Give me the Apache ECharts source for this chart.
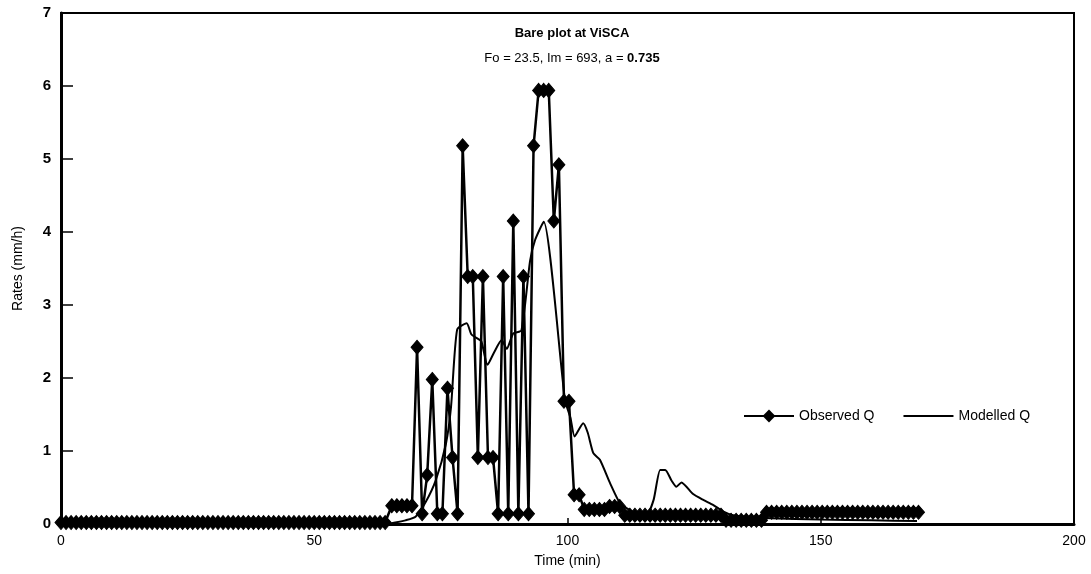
<!DOCTYPE html>
<html><head><meta charset="utf-8">
<script src="https://cdn.jsdelivr.net/npm/echarts@6/dist/echarts.min.js"></script>
<style>html,body{margin:0;padding:0;background:#fff}#c{width:1091px;height:574px}</style>
</head><body><div id="c"></div>
<script>
// Observed Q: time (min) and rate (mm/h)
const obsTime = [0,1,2,3,4,5,6,7,8,9,10,11,12,13,14,15,16,17,18,19,20,21,22,23,24,25,26,27,28,29,30,31,32,33,34,35,36,37,38,39,40,41,42,43,44,45,46,47,48,49,50,51,52,53,54,55,56,57,58,59,60,61,62,63,64,
65.3,66.3,67.3,68.3,69.3,70.3,71.3,72.3,73.3,74.3,75.3,76.3,77.3,78.3,79.3,80.3,81.3,82.3,83.3,84.3,85.3,86.3,87.3,88.3,89.3,90.3,91.3,92.3,93.3,94.3,95.3,96.3,97.3,98.3,99.3,100.3,101.3,102.3,103.3,104.3,105.3,106.3,107.3,108.3,109.3,110.3,111.3,112.3,113.3,114.3,115.3,116.3,117.3,118.3,119.3,120.3,121.3,122.3,123.3,124.3,125.3,126.3,127.3,128.3,129.3,130.3,131.3,132.3,133.3,134.3,135.3,136.3,137.3,138.3,139.3,140.3,141.3,142.3,143.3,144.3,145.3,146.3,147.3,148.3,149.3,150.3,151.3,152.3,153.3,154.3,155.3,156.3,157.3,158.3,159.3,160.3,161.3,162.3,163.3,164.3,165.3,166.3,167.3,168.3,169.3];
const obsQ = [0.02,0.02,0.02,0.02,0.02,0.02,0.02,0.02,0.02,0.02,0.02,0.02,0.02,0.02,0.02,0.02,0.02,0.02,0.02,0.02,0.02,0.02,0.02,0.02,0.02,0.02,0.02,0.02,0.02,0.02,0.02,0.02,0.02,0.02,0.02,0.02,0.02,0.02,0.02,0.02,0.02,0.02,0.02,0.02,0.02,0.02,0.02,0.02,0.02,0.02,0.02,0.02,0.02,0.02,0.02,0.02,0.02,0.02,0.02,0.02,0.02,0.02,0.02,0.02,0.02,
0.25,0.25,0.25,0.25,0.25,2.42,0.14,0.67,1.98,0.14,0.14,1.86,0.91,0.14,5.18,3.39,3.39,0.91,3.39,0.91,0.91,0.14,3.39,0.14,4.15,0.14,3.39,0.14,5.18,5.94,5.94,5.94,4.15,4.92,1.68,1.68,0.4,0.4,0.2,0.2,0.2,0.2,0.2,0.24,0.24,0.24,0.12,0.12,0.12,0.12,0.12,0.12,0.12,0.12,0.12,0.12,0.12,0.12,0.12,0.12,0.12,0.12,0.12,0.12,0.12,0.12,0.05,0.05,0.05,0.05,0.05,0.05,0.05,0.05,
0.16,0.16,0.16,0.16,0.16,0.16,0.16,0.16,0.16,0.16,0.16,0.16,0.16,0.16,0.16,0.16,0.16,0.16,0.16,0.16,0.16,0.16,0.16,0.16,0.16,0.16,0.16,0.16,0.16,0.16,0.16];

// Modelled Q
const modTime = [0,64,66,68,70,72,74,76,77,78.2,80.1,81,82,83,84.2,85.5,87,88,89.3,90.9,92.6,93.6,95.3,99.5,100.6,101.4,103.1,104,105.1,106.4,108.4,110.4,112.3,114.3,115.6,117,118.3,119.3,120.5,121.5,122.5,124.8,126.8,128.8,130.8,132.7,135.4,140,150,160,169];
const modQ = [0,0,0.02,0.05,0.1,0.3,0.6,1.1,1.6,2.66,2.75,2.6,2.55,2.5,2.18,2.35,2.52,2.4,2.61,2.65,3.6,3.89,4.14,1.7,1.45,1.2,1.38,1.25,0.97,0.88,0.56,0.28,0.19,0.12,0.12,0.33,0.74,0.74,0.6,0.51,0.57,0.41,0.33,0.26,0.17,0.12,0.1,0.08,0.06,0.05,0.04];

const xTicks = [0,50,100,150,200];
const yTicks = [0,1,2,3,4,5,6,7];

const chart = echarts.init(document.getElementById('c'), null, {renderer:'canvas'});
const font = 'Liberation Sans, Arial, Helvetica, sans-serif';
chart.setOption({
  backgroundColor:'#fff',
  animation:false,
  textStyle:{fontFamily:font,color:'#000'},
  title:{
    text:'Bare plot at ViSCA',
    subtext:'Fo = 23.5, Im = 693, a = {b|0.735}',
    left:567, top:22, textAlign:'center', itemGap:12,
    textStyle:{fontSize:13,fontWeight:'bold',color:'#000',fontFamily:font},
    subtextStyle:{fontSize:13,color:'#000',fontFamily:font,rich:{b:{fontSize:13,fontWeight:'bold',color:'#000',fontFamily:font}}}
  },
  legend:{
    left:738, top:404, itemGap:28, itemWidth:50, itemHeight:16,
    textStyle:{fontSize:14,color:'#000',fontFamily:font},
    data:[{name:'Observed Q'},{name:'Modelled Q',itemStyle:{opacity:0}}]
  },
  grid:{left:61,right:17,top:13,bottom:50,show:true,borderColor:'#000',borderWidth:2,containLabel:false},
  xAxis:{
    type:'value',min:0,max:200,interval:50,
    name:'Time (min)',nameLocation:'middle',nameGap:30,
    nameTextStyle:{fontSize:14,color:'#000',fontFamily:font},
    axisLine:{show:true,onZero:false,lineStyle:{color:'#000',width:3}},
    axisTick:{show:true,inside:true,length:6,lineStyle:{color:'#000',width:1.5}},
    axisLabel:{fontSize:14,color:'#000',margin:10,fontFamily:font,formatter:v=>xTicks.includes(v)?String(v):''},
    splitLine:{show:false}
  },
  yAxis:{
    type:'value',min:0,max:7,interval:1,
    name:'Rates (mm/h)',nameLocation:'middle',nameGap:36,
    nameTextStyle:{fontSize:14,color:'#000',fontFamily:font},
    axisLine:{show:true,lineStyle:{color:'#000',width:3}},
    axisTick:{show:true,inside:true,length:12,lineStyle:{color:'#000',width:1.5}},
    axisLabel:{fontSize:15,fontWeight:'bold',color:'#000',margin:10,fontFamily:font,formatter:v=>yTicks.includes(v)?String(v):''},
    splitLine:{show:false}
  },
  series:[
    {
      name:'Observed Q',type:'line',
      data:obsTime.map((t,i)=>[t,obsQ[i]]),
      symbol:'diamond',symbolSize:[12,14],showAllSymbol:true,
      lineStyle:{color:'#000',width:2.5},
      itemStyle:{color:'#000',borderColor:'#000'},
      z:3
    },
    {
      name:'Modelled Q',type:'line',
      data:modTime.map((t,i)=>[t,modQ[i]]),
      symbol:'none',smooth:0.2,
      lineStyle:{color:'#000',width:2},
      itemStyle:{color:'#000'},
      z:2
    }
  ]
});
</script></body></html>
